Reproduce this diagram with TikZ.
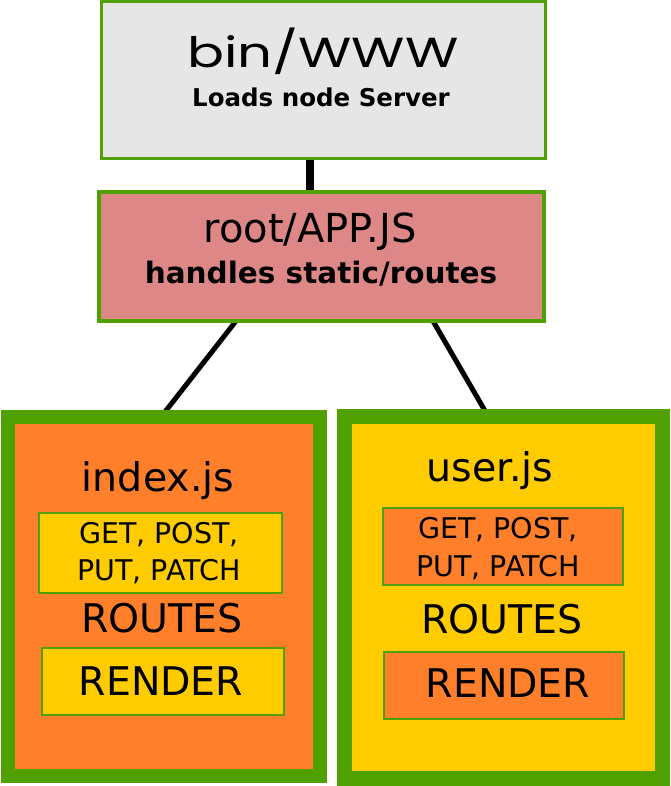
\documentclass[tikz,border=0pt]{standalone}
\usepackage{fontspec}
\usepackage{graphicx}
\setmainfont{DejaVu Sans}
\newfontfamily\popfont{Poppins}
\usetikzlibrary{backgrounds}
\definecolor{bgreen}{HTML}{50A000}
\definecolor{lgray}{HTML}{E6E6E6}
\definecolor{pinkf}{HTML}{DE8787}
\definecolor{orangef}{HTML}{FF7F2A}
\definecolor{yellowf}{HTML}{FFCC00}
\tikzset{
  box/.style={draw=bgreen, rectangle, inner sep=0pt, outer sep=0pt},
  txt/.style={anchor=base, inner sep=0pt, text=black},
  conn/.style={draw=black, line width=5pt},
}
\newcommand{\fs}[1]{\fontsize{#1}{#1}\selectfont}
\begin{document}
\begin{tikzpicture}[x=1pt,y=-1pt]
\useasboundingbox (0,0) rectangle (670,786);
% boxes
\node[box, fill=lgray, line width=3pt, minimum width=444pt, minimum height=157pt] (top) at (323,80.5) {};
\node[box, fill=pinkf, line width=4pt, minimum width=445pt, minimum height=129pt] (app) at (321.5,256.5) {};
\node[box, fill=orangef, line width=14pt, minimum width=312.5pt, minimum height=359pt] (left) at (163.75,596.5) {};
\node[box, fill=yellowf, line width=15pt, minimum width=318pt, minimum height=362pt] (right) at (503.5,597) {};
\node[box, fill=yellowf, line width=2pt, minimum width=243pt, minimum height=80pt] (lget) at (160.5,553) {};
\node[box, fill=yellowf, line width=2pt, minimum width=242pt, minimum height=67pt] (lrender) at (163,681.5) {};
\node[box, fill=orangef, line width=2pt, minimum width=240pt, minimum height=77pt] (rget) at (503,546.5) {};
\node[box, fill=orangef, line width=2pt, minimum width=240pt, minimum height=67pt] (rrender) at (504,685.5) {};
% connectors
\begin{scope}[on background layer]
\draw[draw=black, line width=8pt] (top.south -| 310,0) -- (app.north -| 310,0);
\draw[conn] (app.south -| 236,0) -- (left.north -| 161,0);
\draw[conn] (app.south -| 433,0) -- (right.north -| 488,0);
\end{scope}
% texts
\node[txt] (t1) at (323,68) {\scalebox{1.3}[1]{\popfont\fs{42}bin/WWW}};
\node[txt] (t2) at (321,107) {\fs{24.5}\bfseries Loads node Server};
\node[txt] (t3) at (310,243) {\fs{40}root/APP.JS};
\node[txt] (t4) at (321,283) {\fs{29.5}\bfseries handles static/routes};
% left
\node[txt] (l1) at (158,491) {\fs{39.5}index.js};
\node[txt] (l2) at (159,543) {\fs{28.5}GET, POST,};
\node[txt] (l3) at (159,580) {\fs{28.5}PUT, PATCH};
\node[txt] (l4) at (162,632) {\fs{39.5}ROUTES};
\node[txt] (l5) at (161,695) {\fs{39.5}RENDER};
% right
\node[txt] (r1) at (490,481) {\fs{39.5}user.js};
\node[txt] (r2) at (498,538) {\fs{28.5}GET, POST,};
\node[txt] (r3) at (498,576) {\fs{28.5}PUT, PATCH};
\node[txt] (r4) at (502,633) {\fs{39.5}ROUTES};
\node[txt] (r5) at (508,697) {\fs{39.5}RENDER};
\end{tikzpicture}
\end{document}
